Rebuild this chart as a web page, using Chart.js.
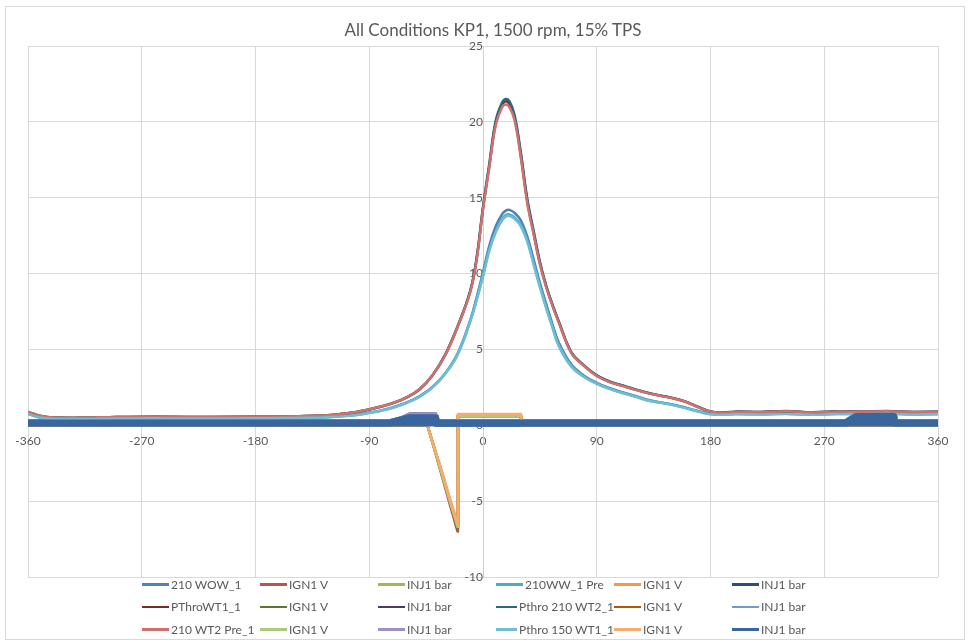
<!DOCTYPE html>
<html>
<head>
<meta charset="utf-8">
<title>All Conditions KP1</title>
<script src="https://cdn.jsdelivr.net/npm/chart.js@4.4.1/dist/chart.umd.min.js"></script>
<style>
    body { margin: 0; background: #fff; font-family: Lato, "Open Sans", sans-serif; }
    #frame { position: absolute; left: 5px; top: 6px; width: 958px; height: 632px; border: 1px solid #d9d9d9; }
    #chart { position: absolute; left: 0; top: 0; }
    #title {
        position: absolute; left: 0; top: 20px; width: 986px; text-align: center;
        font-size: 17px; line-height: 20px; color: #595959;
    }
    #legend {
        position: absolute; left: 142px; top: 573px;
        display: grid; grid-template-columns: repeat(6, 118px); grid-auto-rows: 22.5px;
    }
    .item { display: flex; align-items: center; font-size: 12px; color: #595959; white-space: nowrap; }
    .swatch { width: 27px; height: 2.5px; margin-right: 2px; }
</style>
</head>
<body>
<div id="frame"></div>
<canvas id="chart" width="969" height="644"></canvas>
<div id="title">All Conditions KP1, 1500 rpm, 15% TPS</div>
<div id="legend"></div>
<script>
// Crank angle (deg) for the cylinder pressure traces
const crankDeg = [-360, -350, -340, -320, -290, -260, -230, -200, -170, -140,
    -120, -100, -90, -80, -70, -60, -50, -40, -30, -20,
    -10, -5, 0, 5, 10, 15, 18, 21, 25, 30,
    35, 40, 45, 50, 55, 60, 70, 80, 90, 100,
    110, 120, 130, 140, 150, 160, 170, 180, 190, 200,
    220, 240, 260, 280, 300, 320, 340, 360];

// Cylinder pressure (bar)
const wow1 = [0.77, 0.52, 0.46, 0.44, 0.47, 0.49, 0.47, 0.48, 0.50, 0.52,
    0.57, 0.70, 0.84, 1.00, 1.22, 1.52, 1.92, 2.52, 3.42, 4.75,
    6.95, 8.45, 10.1, 11.85, 13.1, 13.9, 14.15, 14.2, 14.0, 13.5,
    12.45, 10.95, 9.4, 8.0, 6.65, 5.45, 4.0, 3.27, 2.8, 2.46,
    2.18, 1.95, 1.68, 1.52, 1.37, 1.17, 0.94, 0.76, 0.72, 0.76,
    0.74, 0.78, 0.72, 0.77, 0.76, 0.79, 0.74, 0.76];
const ww1Pre = [0.75, 0.50, 0.44, 0.42, 0.45, 0.47, 0.45, 0.46, 0.48, 0.50,
    0.55, 0.68, 0.82, 0.98, 1.20, 1.50, 1.90, 2.50, 3.40, 4.70,
    6.90, 8.30, 9.9, 11.6, 12.8, 13.6, 13.85, 13.9, 13.7, 13.2,
    12.2, 10.7, 9.2, 7.8, 6.5, 5.3, 3.9, 3.2, 2.75, 2.42,
    2.15, 1.92, 1.65, 1.50, 1.35, 1.15, 0.92, 0.74, 0.70, 0.74,
    0.72, 0.76, 0.70, 0.75, 0.74, 0.77, 0.72, 0.74];
const throWT1 = [0.87, 0.61, 0.51, 0.49, 0.54, 0.56, 0.54, 0.55, 0.57, 0.61,
    0.67, 0.87, 1.04, 1.24, 1.49, 1.85, 2.38, 3.28, 4.62, 6.52,
    8.85, 11.0, 14.3, 17.1, 19.9, 21.1, 21.35, 21.15, 20.25, 17.75,
    14.8, 12.7, 10.7, 9.15, 7.9, 6.8, 4.78, 3.92, 3.27, 2.87,
    2.62, 2.37, 2.14, 1.96, 1.79, 1.56, 1.21, 0.9, 0.83, 0.89,
    0.87, 0.93, 0.85, 0.91, 0.89, 0.93, 0.87, 0.89];
const thro210WT2 = [0.88, 0.62, 0.52, 0.50, 0.55, 0.57, 0.55, 0.56, 0.58, 0.62,
    0.68, 0.88, 1.05, 1.25, 1.50, 1.86, 2.40, 3.30, 4.65, 6.55,
    8.9, 11.05, 14.4, 17.25, 20.05, 21.25, 21.5, 21.35, 20.45, 17.95,
    14.95, 12.85, 10.8, 9.2, 7.95, 6.85, 4.8, 3.95, 3.3, 2.9,
    2.64, 2.38, 2.15, 1.97, 1.8, 1.57, 1.22, 0.91, 0.84, 0.9,
    0.88, 0.94, 0.86, 0.92, 0.9, 0.94, 0.88, 0.9];
const wt2Pre1 = [0.88, 0.62, 0.52, 0.50, 0.55, 0.57, 0.55, 0.56, 0.58, 0.62,
    0.68, 0.88, 1.05, 1.25, 1.50, 1.86, 2.40, 3.30, 4.60, 6.50,
    8.8, 10.9, 14.2, 17.0, 19.75, 20.95, 21.15, 20.95, 20.1, 17.6,
    14.65, 12.6, 10.6, 9.1, 7.85, 6.75, 4.75, 3.9, 3.25, 2.85,
    2.6, 2.35, 2.12, 1.95, 1.78, 1.55, 1.2, 0.9, 0.82, 0.88,
    0.86, 0.92, 0.84, 0.9, 0.88, 0.92, 0.86, 0.88];
const thro150WT1 = [0.74, 0.49, 0.43, 0.41, 0.44, 0.46, 0.44, 0.45, 0.47, 0.49,
    0.54, 0.67, 0.81, 0.97, 1.19, 1.49, 1.88, 2.48, 3.38, 4.66,
    6.85, 8.25, 9.8, 11.5, 12.7, 13.5, 13.75, 13.8, 13.6, 13.1,
    12.1, 10.6, 9.1, 7.7, 6.4, 5.2, 3.85, 3.18, 2.73, 2.4,
    2.13, 1.9, 1.63, 1.48, 1.33, 1.13, 0.9, 0.72, 0.69, 0.73,
    0.71, 0.75, 0.69, 0.74, 0.73, 0.76, 0.71, 0.73];

// Ignition coil voltage traces
const ignDeg = [-360, -44, -38, -32, -26, -20.2, -19.8, 30, 30.4, 360];
const ignRed = [0, 0, -1.7, -3.5, -5.3, -7.0, 0.62, 0.62, 0, 0];
const ignOrange = [0, 0, -1.6, -3.2, -4.9, -6.4, 0.72, 0.72, 0, 0];
const ignDkGreen = [0, 0, -1.7, -3.4, -5.1, -6.8, 0.6, 0.6, 0, 0];
const ignDkOrange = [0, 0, -1.6, -3.3, -5.0, -6.6, 0.68, 0.68, 0, 0];
const ignLtGreen = [0, 0, -1.7, -3.4, -5.1, -6.7, 0.6, 0.6, 0, 0];
const ignLtOrange = [0, 0, -1.6, -3.2, -4.9, -6.5, 0.74, 0.74, 0, 0];

// Injector line pressure traces
const injDeg = [-360, -74, -58, -37.5, -37, 287, 295, 325, 325.5, 360];
const injBase = [0.15, 0.15, 0.5, 0.5, 0.15, 0.15, 0.58, 0.58, 0.15, 0.15];
const injHigh = [0.15, 0.15, 0.76, 0.78, 0.15, 0.15, 0.5, 0.5, 0.15, 0.15];

const seriesNames = ['210 WOW_1', 'IGN1 V', 'INJ1 bar', '210WW_1 Pre', 'IGN1 V', 'INJ1 bar',
    'PThroWT1_1', 'IGN1 V', 'INJ1 bar', 'Pthro 210 WT2_1', 'IGN1 V', 'INJ1 bar',
    '210 WT2 Pre_1', 'IGN1 V', 'INJ1 bar', 'Pthro 150 WT1_1', 'IGN1 V', 'INJ1 bar'];
const seriesColors = ['#4f81bd', '#c0504d', '#9bbb59', '#4bacc6', '#f79646', '#2c4d75',
    '#772c2a', '#5f7530', '#4d3b62', '#276a7c', '#b65708', '#729aca',
    '#d0716f', '#afc97a', '#a18fc0', '#6fbdd1', '#f9ab6b', '#3a66a0'];
const seriesValues = [wow1, ignRed, injBase, ww1Pre, ignOrange, injBase,
    throWT1, ignDkGreen, injHigh, thro210WT2, ignDkOrange, injBase,
    wt2Pre1, ignLtGreen, injHigh, thro150WT1, ignLtOrange, injBase];

const xLabels = [-360, -270, -180, -90, 0, 90, 180, 270, 360];
const yLabels = [-10, -5, 0, 5, 10, 15, 20, 25];

const tickFont = { family: 'Lato, "Open Sans", sans-serif', size: 12 };

// series come in groups of three: pressure, IGN1 V, INJ1 bar
const datasets = seriesNames.map((name, i) => {
    const kind = i % 3;
    const xs = kind === 0 ? crankDeg : kind === 1 ? ignDeg : injDeg;
    const ds = {
        label: name,
        data: seriesValues[i].map((y, j) => ({ x: xs[j], y })),
        borderColor: seriesColors[i],
        backgroundColor: seriesColors[i],
        pointRadius: 0,
        borderWidth: 2.5,
        borderJoinStyle: 'round',
        borderCapStyle: 'round',
        fill: false,
        tension: 0,
        // later series sit on top, like the spreadsheet draws them
        order: seriesNames.length - i
    };
    if (kind === 0) {
        ds.tension = 0.4;
    } else if (kind === 2) {
        ds.borderCapStyle = 'butt';
        ds.borderWidth = seriesValues[i] === injHigh ? 3 : 7;
        if (i === seriesNames.length - 1) ds.fill = { value: -0.08 };
    }
    return ds;
});

const chart = new Chart(document.getElementById('chart'), {
    type: 'line',
    data: { datasets },
    options: {
        responsive: false,
        animation: false,
        layout: { padding: { top: 46, left: 28, right: 31, bottom: 67 } },
        plugins: {
            legend: { display: false },
            tooltip: { enabled: false }
        },
        scales: {
            x: {
                type: 'linear',
                min: xLabels[0],
                max: xLabels[xLabels.length - 1],
                position: { y: 0 },
                afterBuildTicks: (axis) => { axis.ticks = xLabels.map(v => ({ value: v })); },
                ticks: { color: '#595959', font: tickFont, padding: 9, maxRotation: 0, autoSkip: false },
                grid: { color: '#d9d9d9', drawTicks: false },
                border: { color: '#bfbfbf' }
            },
            y: {
                type: 'linear',
                min: yLabels[0],
                max: yLabels[yLabels.length - 1],
                position: { x: 0 },
                afterBuildTicks: (axis) => { axis.ticks = yLabels.map(v => ({ value: v })); },
                ticks: { color: '#595959', font: tickFont, padding: 8, autoSkip: false },
                grid: { color: '#d9d9d9', drawTicks: false },
                border: { color: '#d0d0d0' }
            }
        }
    }
});

// legend laid out in six columns, row by row
const legend = document.getElementById('legend');
chart.data.datasets.forEach(ds => {
    const item = document.createElement('div');
    item.className = 'item';
    item.innerHTML = `<span class="swatch" style="background:${ds.borderColor}"></span>${ds.label}`;
    legend.appendChild(item);
});
</script>
</body>
</html>
